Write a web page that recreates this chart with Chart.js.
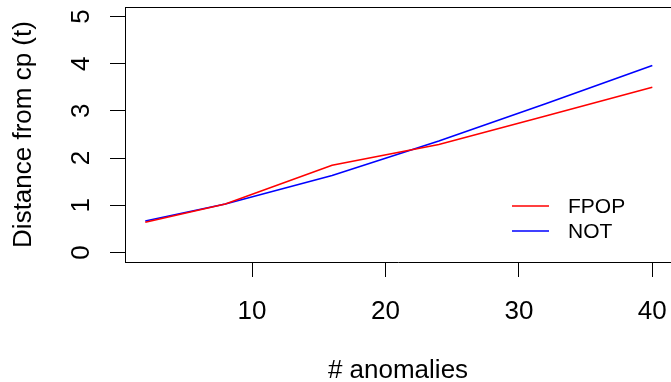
<!DOCTYPE html>
<html>
<head>
<meta charset="utf-8">
<script src="https://cdn.jsdelivr.net/npm/chart.js@4/dist/chart.umd.min.js"></script>
<style>
  html, body { margin: 0; padding: 0; background: #fff; }
  canvas { display: block; }
</style>
</head>
<body>
<canvas id="distChart" width="671" height="382"></canvas>
<script>
// values
var anomalies = [2, 8, 16, 24, 32, 40];
var fpopDist = [0.64, 1.03, 1.85, 2.29, 2.89, 3.50];
var notDist = [0.67, 1.03, 1.63, 2.36, 3.15, 3.96];
var seriesNames = ["FPOP", "NOT"];
var seriesColors = ["#ff0000", "#0000ff"];
var xTitle = "# anomalies";
var yTitle = "Distance from cp (t)";

var fontFamily = "'Liberation Sans', Arial, sans-serif";

function toPoints(xs, ys)
{
    var pts = [];
    for (var i = 0; i < xs.length; i++)
    {
        pts.push({x: xs[i], y: ys[i]});
    }
    return pts;
}

// top edge of the box + legend without frame (R style)
var boxAndLegend = {
    id: "boxAndLegend",
    afterDraw: function (chart) {
        var ctx = chart.ctx;
        var area = chart.chartArea;
        ctx.save();
        ctx.strokeStyle = "#000";
        ctx.lineWidth = 1;
        ctx.beginPath();
        ctx.moveTo(area.left, area.top + 0.5);
        ctx.lineTo(area.right, area.top + 0.5);
        ctx.stroke();

        var lx = 512, ly = 206, gap = 25;
        ctx.font = "21px " + fontFamily;
        ctx.textBaseline = "middle";
        ctx.textAlign = "left";
        chart.data.datasets.forEach(function (ds, i) {
            var y = ly + i * gap;
            ctx.strokeStyle = ds.borderColor;
            ctx.lineWidth = 1.6;
            ctx.beginPath();
            ctx.moveTo(lx, y);
            ctx.lineTo(lx + 37, y);
            ctx.stroke();
            ctx.fillStyle = "#000";
            ctx.fillText(ds.label, lx + 56, y + 1);
        });
        ctx.restore();
    }
};

var chart = new Chart(document.getElementById("distChart"), {
    type: "line",
    data: {
        datasets: [
            {
                label: seriesNames[0],
                data: toPoints(anomalies, fpopDist),
                borderColor: seriesColors[0],
                borderWidth: 1.6,
                pointRadius: 0,
                tension: 0,
                fill: false
            },
            {
                label: seriesNames[1],
                data: toPoints(anomalies, notDist),
                borderColor: seriesColors[1],
                borderWidth: 1.6,
                pointRadius: 0,
                tension: 0,
                fill: false
            }
        ]
    },
    options: {
        responsive: false,
        animation: false,
        devicePixelRatio: 1,
        layout: { padding: { top: 7, left: 0, right: 0, bottom: 0 } },
        plugins: {
            legend: { display: false },
            tooltip: { enabled: false }
        },
        scales: {
            x: {
                type: "linear",
                position: "bottom",
                min: 0.48,
                max: 41.4,
                ticks: {
                    stepSize: 10,
                    includeBounds: false,
                    padding: 19,
                    color: "#000",
                    font: { family: fontFamily, size: 26 },
                    maxRotation: 0
                },
                grid: { drawOnChartArea: false, drawTicks: true, tickLength: 15, color: "#000", lineWidth: 1 },
                border: { display: true, color: "#000", width: 1 },
                title: {
                    display: true,
                    text: xTitle,
                    color: "#000",
                    font: { family: fontFamily, size: 26 },
                    padding: { top: 0, bottom: -4 }
                },
                afterFit: function (scale) {
                    scale.height = 120;
                    scale.paddingLeft = 0;
                    scale.paddingRight = 0;
                }
            },
            y: {
                type: "linear",
                min: -0.2,
                max: 5.2,
                ticks: {
                    stepSize: 1,
                    includeBounds: false,
                    minRotation: 90,
                    maxRotation: 90,
                    crossAlign: "center",
                    padding: 21,
                    color: "#000",
                    font: { family: fontFamily, size: 26 }
                },
                grid: { drawOnChartArea: false, drawTicks: true, tickLength: 15, color: "#000", lineWidth: 1 },
                border: { display: true, color: "#000", width: 1 },
                title: {
                    display: true,
                    text: yTitle,
                    color: "#000",
                    font: { family: fontFamily, size: 26 },
                    padding: { top: 8, bottom: 0 }
                },
                afterFit: function (scale) {
                    scale.width = 125;
                    scale.paddingTop = 0;
                    scale.paddingBottom = 0;
                }
            }
        }
    },
    plugins: [boxAndLegend]
});
</script>
</body>
</html>
